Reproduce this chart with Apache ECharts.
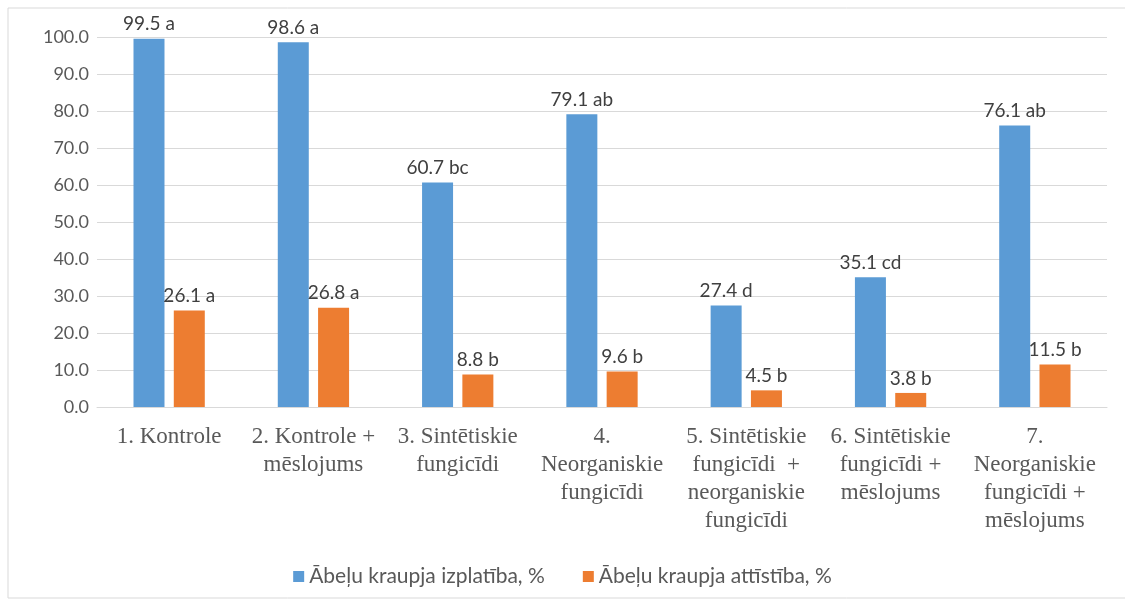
<!DOCTYPE html>
<html>
<head>
<meta charset="utf-8">
<script src="https://cdn.jsdelivr.net/npm/echarts@6/dist/echarts.min.js"></script>
<style>
  html, body { margin: 0; padding: 0; background: #fff; }
  #chart { width: 1125px; height: 605px; }
</style>
</head>
<body>
<div id="chart"></div>
<script>
var categories = [
    '1. Kontrole',
    '2. Kontrole +\nmēslojums',
    '3. Sintētiskie\nfungicīdi',
    '4.\nNeorganiskie\nfungicīdi',
    '5. Sintētiskie\nfungicīdi  +\nneorganiskie\nfungicīdi',
    '6. Sintētiskie\nfungicīdi +\nmēslojums',
    '7.\nNeorganiskie\nfungicīdi +\nmēslojums'
];
var spreadValues = [99.5, 98.6, 60.7, 79.1, 27.4, 35.1, 76.1];
var spreadLetters = ['a', 'a', 'bc', 'ab', 'd', 'cd', 'ab'];
var developValues = [26.1, 26.8, 8.8, 9.6, 4.5, 3.8, 11.5];
var developLetters = ['a', 'a', 'b', 'b', 'b', 'b', 'b'];

var chart = echarts.init(document.getElementById('chart'));

var labelStyle = function (letters) {
    return {
        show: true,
        position: 'top',
        distance: 5,
        color: '#404040',
        fontFamily: 'Lato',
        fontSize: 19,
        formatter: function (p) {
            return p.value.toFixed(1) + ' ' + letters[p.dataIndex];
        }
    };
};

var option = {
    animation: false,
    graphic: [{
        type: 'rect',
        shape: { x: 8, y: 8, width: 1130, height: 590 },
        style: { fill: 'none', stroke: '#d9d9d9', lineWidth: 1 }
    }],
    legend: {
        bottom: 13,
        left: 'center',
        itemWidth: 11,
        itemHeight: 11,
        itemGap: 38,
        icon: 'rect',
        textStyle: { color: '#595959', fontFamily: 'Lato', fontSize: 21 },
        data: ['Ābeļu kraupja izplatība, %', 'Ābeļu kraupja attīstība, %']
    },
    grid: { left: 97, right: 18, top: 37, bottom: 198 },
    xAxis: {
        type: 'category',
        data: categories,
        axisTick: { show: false },
        axisLine: { lineStyle: { color: '#d9d9d9', width: 1 } },
        axisLabel: {
            interval: 0,
            margin: 16,
            color: '#595959',
            fontFamily: 'Liberation Serif',
            fontSize: 23,
            lineHeight: 28
        }
    },
    yAxis: {
        type: 'value',
        min: 0,
        max: 100,
        interval: 10,
        axisLine: { show: false },
        axisTick: { show: false },
        splitLine: { lineStyle: { color: '#d9d9d9', width: 1 } },
        axisLabel: {
            margin: 8,
            color: '#595959',
            fontFamily: 'Lato',
            fontSize: 18,
            formatter: function (v) { return v.toFixed(1); }
        }
    },
    series: [
        {
            name: 'Ābeļu kraupja izplatība, %',
            type: 'bar',
            barWidth: 31,
            barGap: '30%',
            itemStyle: { color: '#5b9bd5' },
            label: labelStyle(spreadLetters),
            data: spreadValues
        },
        {
            name: 'Ābeļu kraupja attīstība, %',
            type: 'bar',
            barWidth: 31,
            barGap: '30%',
            itemStyle: { color: '#ed7d31' },
            label: labelStyle(developLetters),
            data: developValues
        }
    ]
};
chart.setOption(option);
</script>
</body>
</html>
